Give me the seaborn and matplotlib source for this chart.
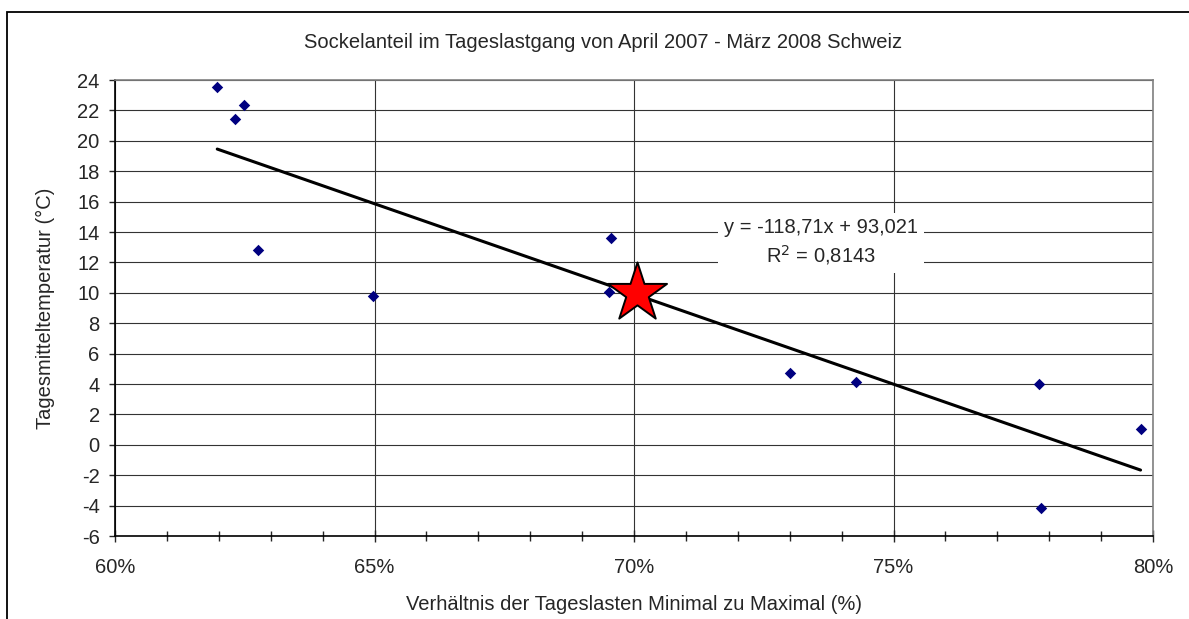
import matplotlib
matplotlib.use("Agg")
import matplotlib.pyplot as plt
import seaborn as sns
import numpy as np
import pandas as pd
from matplotlib.ticker import FuncFormatter, MultipleLocator
from matplotlib.patches import Rectangle

# ---- data ----
ratio = [0.6197, 0.6231, 0.6249, 0.6276, 0.6497, 0.6956, 0.6951, 0.7301, 0.7427, 0.7781, 0.7976, 0.7784]
temperature = [23.56, 21.43, 22.33, 12.82, 9.79, 13.63, 10.05, 4.74, 4.11, 4.02, 1.06, -4.18]
star_ratio = [0.7006]
star_temp = [9.97]
slope = -118.71
intercept = 93.021
eq_label = "y = -118,71x + 93,021\nR$^2$ = 0,8143"
title = "Sockelanteil im Tageslastgang von April 2007 - März 2008 Schweiz"
xlabel = "Verhältnis der Tageslasten Minimal zu Maximal (%)"
ylabel = "Tagesmitteltemperatur (°C)"

sns.set_style("ticks")
plt.rcParams['font.family'] = ['Liberation Sans', 'DejaVu Sans']
plt.rcParams['axes.unicode_minus'] = False

FS = 14.5

fig = plt.figure(figsize=(11.89, 6.19), dpi=100)
ax = fig.add_axes([115/1189, 1-536/619, (1153-115)/1189, (536-80)/619])

df = pd.DataFrame({"ratio": ratio, "temp": temperature})
# trend line
tx = np.array([min(ratio), max(ratio)])
ax.plot(tx, slope*tx + intercept, color="black", lw=2.2, zorder=3)

sns.scatterplot(data=df, x="ratio", y="temp", marker="D", s=34, color="#000080",
                linewidth=0, ax=ax, zorder=4)
sns.scatterplot(x=star_ratio, y=star_temp, marker="*", s=2000, color="#ff0000",
                edgecolor="black", linewidth=1.4, ax=ax, zorder=5)

ax.set_xlim(0.60, 0.80)
ax.set_ylim(-6, 24)
ax.xaxis.set_major_locator(MultipleLocator(0.05))
ax.xaxis.set_minor_locator(MultipleLocator(0.01))
ax.yaxis.set_major_locator(MultipleLocator(2))
ax.xaxis.set_major_formatter(FuncFormatter(lambda v, p: f"{v*100:.0f}%"))

ax.grid(True, which="major", color="#333333", lw=0.8)
ax.set_axisbelow(True)

for s in ["left", "bottom"]:
    ax.spines[s].set_color("black")
    ax.spines[s].set_linewidth(1.2)
for s in ["top", "right"]:
    ax.spines[s].set_color("#808080")
    ax.spines[s].set_linewidth(1.2)

ax.tick_params(axis="y", which="major", direction="out", length=4, width=1, labelsize=FS, pad=7)
ax.tick_params(axis="x", which="major", direction="inout", length=8, width=1, labelsize=FS, pad=12)
ax.tick_params(axis="x", which="minor", direction="inout", length=7, width=1)

ax.set_xlabel(xlabel, fontsize=FS, labelpad=13)
ax.set_ylabel(ylabel, fontsize=FS, labelpad=16)
fig.text(603/1189, 1-42/619, title, ha="center", va="center", fontsize=FS)

ax.text(0.680, 0.643, eq_label, transform=ax.transAxes, ha="center", va="center",
        fontsize=FS, linespacing=1.3, zorder=6,
        bbox=dict(boxstyle="square,pad=0.3", facecolor="white", edgecolor="none"))

# outer chart border (cropped on right and bottom)
fig.patches.append(Rectangle((7/1189, -0.1), 1.2, 1.1 - 12/619, transform=fig.transFigure,
                             fill=False, edgecolor="black", lw=1.3))

fig.savefig("out.png", dpi=100)
